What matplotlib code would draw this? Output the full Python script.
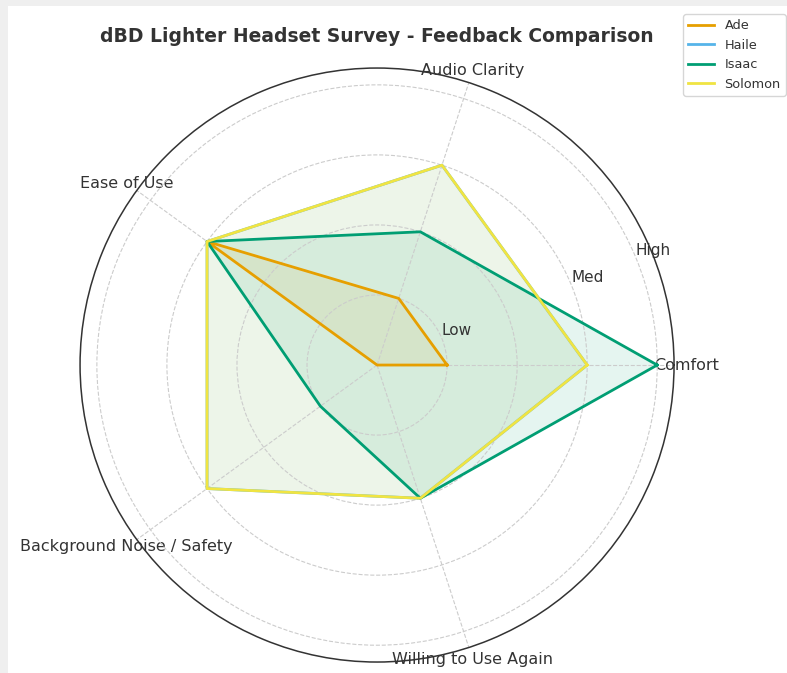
import numpy as np
import matplotlib
matplotlib.use("Agg")
import matplotlib.pyplot as plt
from matplotlib.patches import Rectangle

categories = ["Comfort", "Audio Clarity", "Ease of Use",
              "Background Noise / Safety", "Willing to Use Again"]
names = ["Ade", "Haile", "Isaac", "Solomon"]
ade = [1, 1, 3, 0, 0]
haile = [3, 3, 3, 3, 2]
isaac = [4, 2, 3, 1, 2]
solomon = [3, 3, 3, 3, 2]
series = [ade, haile, isaac, solomon]
colors = ["#E69F00", "#56B4E9", "#009E73", "#F0E442"]
r_ticks = [1, 2, 3, 4]
r_labels = ["Low", "", "Med", "High"]

fig = plt.figure(figsize=(7.87, 6.73), dpi=100)
fig.patch.set_facecolor("#efefef")
card = Rectangle((8 / 787, 0), 1, 1 - 6 / 673, transform=fig.transFigure,
                 facecolor="white", edgecolor="none", zorder=-10)
fig.add_artist(card)

ax = fig.add_axes([0.1017, 0.0163, 0.7548, 0.8826], projection="polar")
ax.set_facecolor("none")

n = len(categories)
angles = np.linspace(0, 2 * np.pi, n, endpoint=False)
ang_closed = np.concatenate([angles, angles[:1]])

for name, vals, c in zip(names, series, colors):
    v = list(vals) + [vals[0]]
    ax.plot(ang_closed, v, color=c, linewidth=2, label=name)
    ax.fill(ang_closed, v, color=c, alpha=0.1)

ax.set_ylim(0, 4.24)
ax.set_yticks(r_ticks)
ax.set_yticklabels(r_labels, fontsize=11, color="#333333")
ax.set_rlabel_position(22.5)
ax.set_xticks(angles)
ax.set_xticklabels(categories, fontsize=11.5, color="#333333")
ax.tick_params(axis="x", pad=-1.5)
ax.grid(True, color="#cccccc", linestyle="--", linewidth=0.8)
ax.spines["polar"].set_color("#333333")
ax.spines["polar"].set_linewidth(1.1)

fig.text(377 / 787, 1 - 36 / 673, "dBD Lighter Headset Survey - Feedback Comparison",
         ha="center", va="center", fontsize=13.5, fontweight="bold", color="#333333")

leg = fig.legend(loc="upper right", bbox_to_anchor=(786 / 787, 1 - 14 / 673), fontsize=9.3,
                 frameon=True, handlelength=2, borderaxespad=0)
for t in leg.get_texts():
    t.set_color("#333333")

fig.savefig("out.png", dpi=100, facecolor=fig.get_facecolor())
